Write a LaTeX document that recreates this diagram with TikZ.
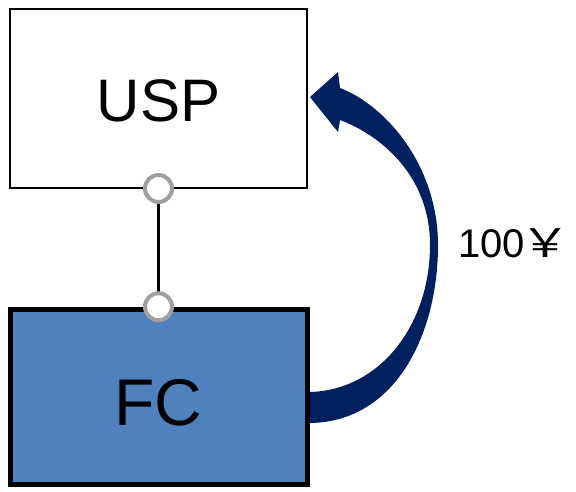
\documentclass[tikz,border=0pt]{standalone}
\usepackage{fontspec}
\setmainfont{Liberation Sans}
\newfontfamily\cjk{Noto Sans CJK SC}
\definecolor{fcblue}{HTML}{4F81BD}
\definecolor{paynavy}{HTML}{002060}
\tikzset{
  box/.style={rectangle, draw=black, minimum width=297pt, inner sep=0pt},
  port/.style={circle, draw=gray!75, fill=white, line width=4pt, minimum size=27pt, inner sep=0pt},
  pay/.style={fill=paynavy, draw=none},
}
\begin{document}
\begin{tikzpicture}[x=1pt,y=-1pt]
\useasboundingbox (0,0) rectangle (576,491);
\node [box, line width=2pt, minimum height=179pt, fill=white,
       font=\fontsize{60}{64}\selectfont, text height=48pt] (usp) at (158.5,98) {USP};
\node [box, line width=5pt, minimum height=175.5pt, fill=fcblue,
       font=\fontsize{66}{70}\selectfont, text height=57pt] (fc) at (158.5,397) {FC};
% link between the two boxes
\draw [line width=2.5pt] (usp.south) -- (fc.north);
\node [port] (uspport) at (usp.south) {};
\node [port] (fcport) at (fc.north) {};
% payment going back up, thin where it turns
\path [pay] (310,392) .. controls (380,390) and (430,325) .. (430,245)
  .. controls (430,175) and (380,135) .. (340,120)
  -- (338,132) -- (310,97) -- (338,72) -- (340,88)
  .. controls (385,105) and (438,165) .. (438,245)
  .. controls (438,335) and (395,422) .. (310,423) -- cycle;
\node [font=\fontsize{40}{44}\selectfont, anchor=west, inner sep=0pt] (fee) at (458,243)
  {100\kern-4pt\scalebox{1.25}[1]{\cjk ￥}};
\end{tikzpicture}
\end{document}
